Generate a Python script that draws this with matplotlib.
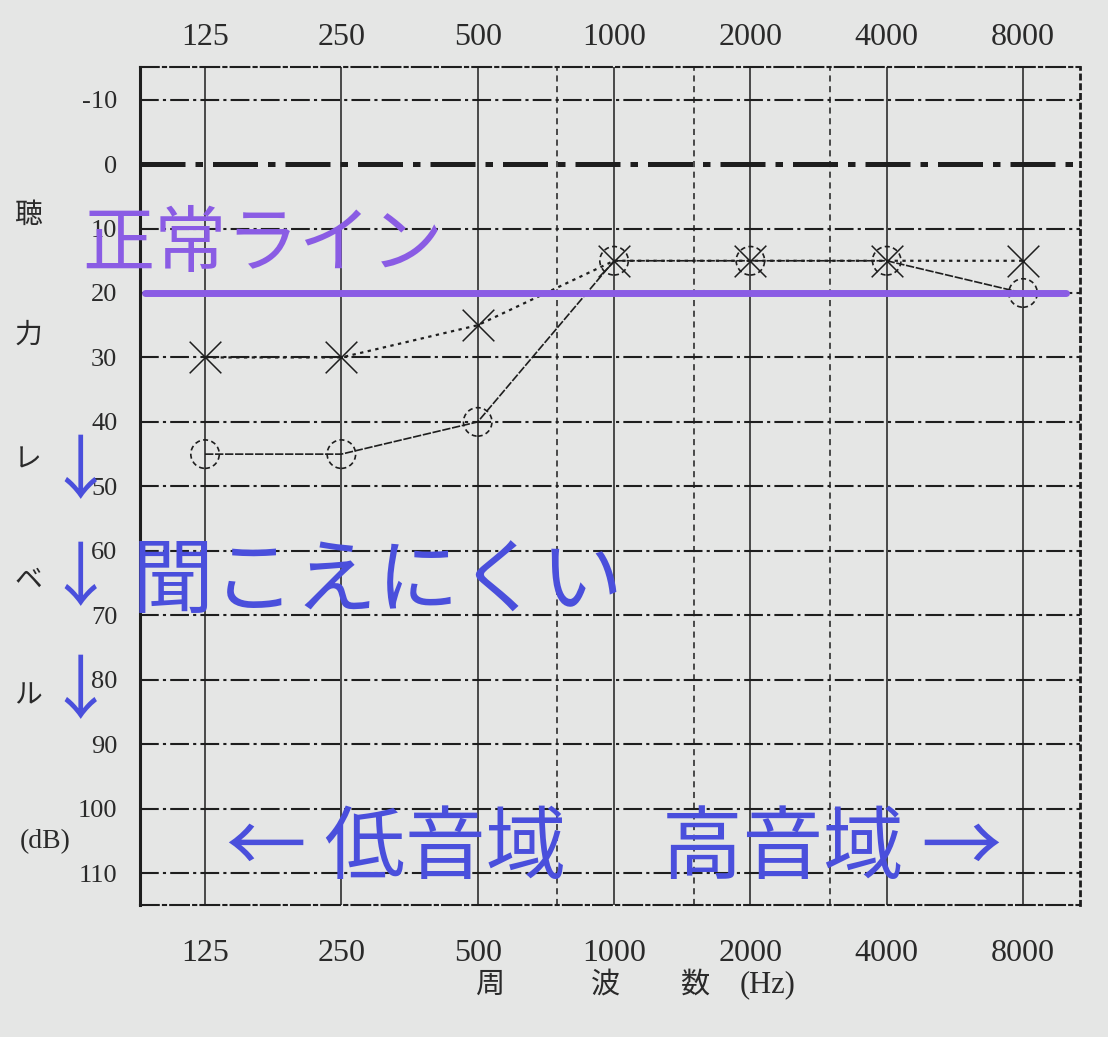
import matplotlib.pyplot as plt
from matplotlib.ticker import NullLocator

# audiogram values (dB HL)
FREQS = [125, 250, 500, 1000, 2000, 4000, 8000]
FREQ_LABELS = ['125', '250', '500', '1000', '2000', '4000', '8000']
HALF_OCTAVES = [750, 1500, 3000]
RIGHT_EAR_DB = [45, 45, 40, 15, 15, 15, 20]   # circles, solid line
LEFT_EAR_DB = [30, 30, 25, 15, 15, 15, 15]    # crosses, dotted line
DB_TICKS = list(range(-10, 120, 10))
DB_LABELS = [str(d) for d in DB_TICKS]
NORMAL_DB = 20

JP = ['Noto Sans CJK JP', 'DejaVu Sans']
DIGITS = 'Liberation Serif'
PAPER = '#e5e6e5'
INK = '#1e1e1e'
GREY_TEXT = '#2a2a2a'
PURPLE = '#8a5ce4'
BLUE = '#4a4fdc'

fig = plt.figure(figsize=(11.08, 10.37), dpi=100, facecolor=PAPER)
ax = fig.add_axes([0.126, 0.127, 0.849, 0.808])
ax.set_facecolor(PAPER)
ax.set_xscale('log', base=2)
ax.set_xlim(125 * 2 ** -0.48, 8000 * 2 ** 0.42)
ax.set_ylim(115, -15)

# grid: dash-dot rows, solid octave columns, dashed half octaves
dashdot = (0, (9, 2, 1.5, 2))
for db in DB_TICKS:
    ax.axhline(db, color=INK, lw=3.6 if db == 0 else 1.5, ls=dashdot, zorder=1)
for f in FREQS:
    ax.axvline(f, color=INK, lw=1.1, zorder=1)
for f in HALF_OCTAVES:
    ax.axvline(f, color=INK, lw=1.1, ls=(0, (4, 3)), zorder=1)

ax.spines['left'].set_linewidth(2.2)
ax.spines['left'].set_color(INK)
for side in ['top', 'bottom']:
    ax.spines[side].set_linestyle(dashdot)
    ax.spines[side].set_linewidth(1.5)
    ax.spines[side].set_color(INK)
ax.spines['right'].set_linestyle((0, (1.5, 2)))
ax.spines['right'].set_linewidth(2)
ax.spines['right'].set_color(INK)

# data
ax.plot(FREQS, RIGHT_EAR_DB, color=INK, lw=1.2, ls=(0, (5, 1)), zorder=3)
ax.scatter(FREQS, RIGHT_EAR_DB, s=420, facecolors='none', edgecolors=INK,
           linewidths=1.2, linestyles=(0, (3, 2)), zorder=4)
ax.plot(FREQS, LEFT_EAR_DB, color=INK, lw=1.6, ls=(0, (1.5, 2)), zorder=3)
ax.scatter(FREQS, LEFT_EAR_DB, s=520, marker='x', color=INK,
           linewidths=1.1, zorder=4)

# normal line annotation
ax.axhline(NORMAL_DB, xmin=0.006, xmax=0.985, color=PURPLE, lw=5,
           solid_capstyle='round', zorder=5)

# ticks
ax.set_xticks(FREQS, FREQ_LABELS)
ax.xaxis.set_minor_locator(NullLocator())
ax.set_yticks(DB_TICKS, DB_LABELS)
ax.tick_params(axis='x', which='both', length=0, pad=24, labelsize=23,
               labelcolor=GREY_TEXT)
ax.tick_params(axis='y', length=0, pad=16, labelsize=19, labelcolor=GREY_TEXT)

top = ax.secondary_xaxis('top')
top.set_xticks(FREQS, FREQ_LABELS)
top.xaxis.set_minor_locator(NullLocator())
top.tick_params(axis='x', which='both', length=0, pad=11, labelsize=23,
                labelcolor=GREY_TEXT)
top.spines['top'].set_visible(False)

for lab in ax.get_xticklabels() + ax.get_yticklabels() + top.get_xticklabels():
    lab.set_fontfamily(DIGITS)

for ch, xpx in [('周', 490), ('波', 605), ('数', 695)]:
    fig.text(xpx / 1108, 1 - 985 / 1037, ch, family=JP, fontsize=21,
             color=GREY_TEXT, ha='center', va='center')
fig.text(768 / 1108, 1 - 985 / 1037, '(Hz)', family=DIGITS, fontsize=22,
         color=GREY_TEXT, ha='center', va='center')
for ch, ypx in [('聴', 215), ('力', 335), ('レ', 460), ('ベ', 580), ('ル', 695)]:
    fig.text(28 / 1108, 1 - ypx / 1037, ch, family=JP, fontsize=20,
             color=GREY_TEXT, ha='center', va='center')
fig.text(45 / 1108, 1 - 842 / 1037, '(dB)', family=DIGITS, fontsize=20,
         color=GREY_TEXT, ha='center', va='center')

# overlay annotations
fig.text(82 / 1108, 1 - 245 / 1037, '正常ライン', family=JP, fontsize=52,
         color=PURPLE, ha='left', va='center')
for ypx in [473, 580, 693]:
    fig.text(80 / 1108, 1 - ypx / 1037, '↓', family=JP, fontsize=50,
             color=BLUE, ha='center', va='center')
fig.text(132 / 1108, 1 - 582 / 1037, '聞こえにくい', family=JP, fontsize=59,
         color=BLUE, ha='left', va='center')
fig.text(226 / 1108, 1 - 850 / 1037, '← 低音域', family=JP, fontsize=58,
         color=BLUE, ha='left', va='center')
fig.text(1002 / 1108, 1 - 850 / 1037, '高音域 →', family=JP, fontsize=58,
         color=BLUE, ha='right', va='center')

fig.savefig('out.png', dpi=100, facecolor=PAPER)
